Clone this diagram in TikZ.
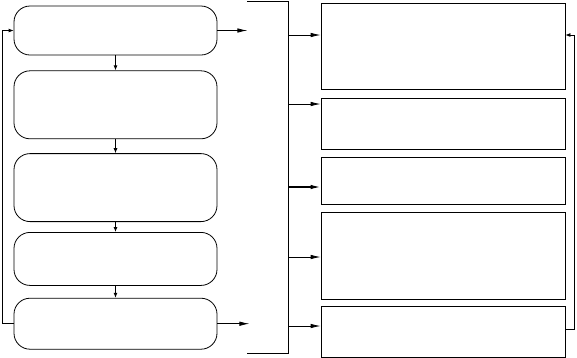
\documentclass[tikz,border=0pt]{standalone}
\usetikzlibrary{arrows.meta,positioning,calc}

\begin{document}
\begin{tikzpicture}[x=1pt, y=-1pt, line width=0.8pt,
    stage/.style={draw, rounded corners=16pt, minimum width=203pt, inner sep=0pt},
    panel/.style={draw, minimum width=244pt, inner sep=0pt},
    arr/.style={-{Latex[length=10pt,width=4.5pt]}},
    tick/.style={-{Latex[length=5pt,width=4pt]}}]
    \useasboundingbox (0,0) rectangle (577,357);
    % left column of stages
    \node[stage, minimum height=49pt] (s1) at (115.5,30.5) {};
    \node[stage, minimum height=68pt, below=15pt of s1] (s2) {};
    \node[stage, minimum height=68pt, below=14pt of s2] (s3) {};
    \node[stage, minimum height=53pt, below=10pt of s3] (s4) {};
    \node[stage, minimum height=51pt, below=12pt of s4] (s5) {};
    \draw[tick, line width=1.4pt] (s1) -- (s2);
    \draw[tick] (s2) -- (s3);
    \draw[tick] (s3) -- (s4);
    \draw[tick] (s4) -- (s5);
    \draw[tick] (s5.west) -- ++(-11,0) |- (s1.west);
    % outputs into the bracket
    \coordinate (o1) at ($(s1.east)+(30,0)$);
    \coordinate (o5) at ($(s5.east)+(32,0)$);
    \draw[arr] (s1.east) -- (o1);
    \draw[arr] (s5.east) -- (o5);
    \coordinate (bt) at (247,1);
    \coordinate (bb) at (247,353);
    \draw (bt) -- ++(41,0) |- (bb);
    % right column of panels
    \node[panel, minimum height=86pt] (p1) at (443,46) {};
    \node[panel, minimum height=51pt, below=9pt of p1] (p2) {};
    \node[panel, minimum height=47pt, below=7pt of p2] (p3) {};
    \node[panel, minimum height=87pt, below=7pt of p3] (p4) {};
    \node[panel, minimum height=51pt, below=6pt of p4] (p5) {};
    \coordinate (j1) at (288,35);
    \coordinate (j2) at (288,104);
    \coordinate (j3) at (288,187);
    \coordinate (j4) at (288,257);
    \coordinate (j5) at (288,326);
    \draw[arr] (j1) -- (j1 -| p1.west);
    \draw[arr] (j2) -- (j2 -| p2.west);
    \draw[arr, line width=1.4pt] (j3) -- (j3 -| p3.west);
    \draw[arr] (j4) -- (j4 -| p4.west);
    \draw[arr] (j5) -- (j5 -| p5.west);
    \draw[tick] ([yshift=2.5pt]p5.east) -- ++(9,0) |- ([yshift=11pt]p1.east);
  \end{tikzpicture}
\end{document}
